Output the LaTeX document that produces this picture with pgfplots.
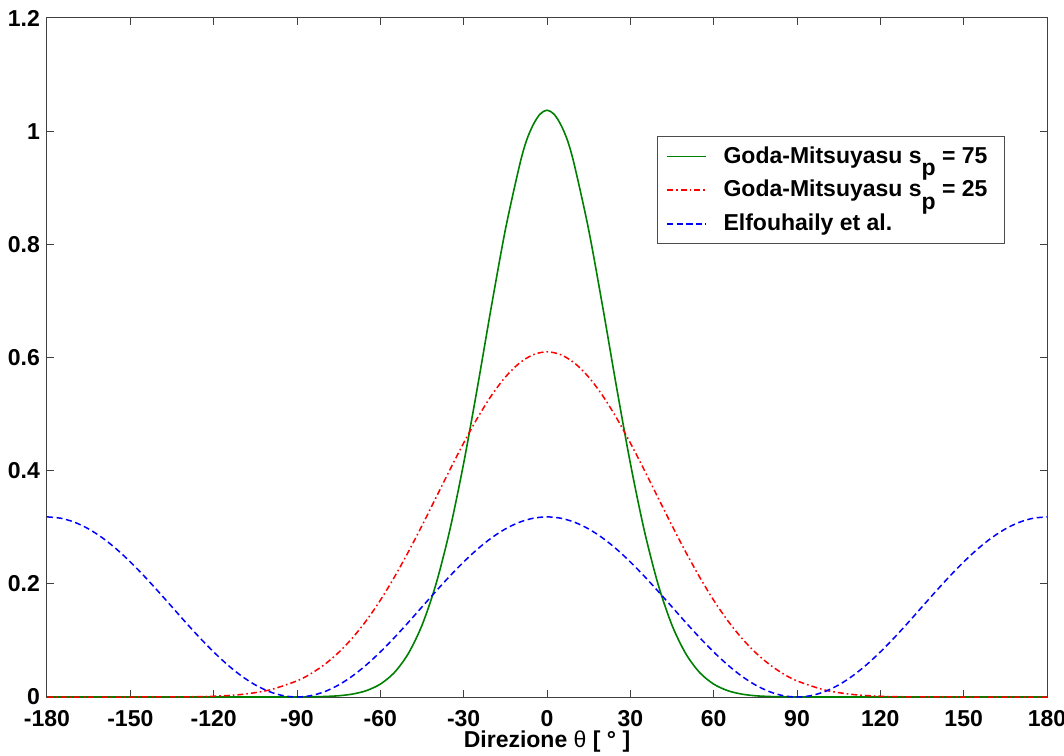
\documentclass[border=0pt]{standalone}
\usepackage{fontspec}
\setmainfont{Liberation Sans}
\usepackage{pgfplots}
\pgfplotsset{compat=1.18}
\definecolor{mgreen}{rgb}{0,0.5,0}
\begin{document}
\begin{tikzpicture}
\begin{axis}[
  name=ax,
  width=500pt, height=339.5pt, scale only axis,
  xmin=-180, xmax=180, ymin=0, ymax=1.2,
  xtick={-180,-150,-120,-90,-60,-30,0,30,60,90,120,150,180},
  ytick={0,0.2,0.4,0.6,0.8,1,1.2},
  tick align=inside, major tick length=3.5pt,
  axis line style={line width=0.5pt, black!75},
  tick style={line width=0.5pt, black!75},
  font=\fontsize{11.5}{13.8}\selectfont\bfseries,
  /pgf/number format/assume math mode=true,
  ticklabel style={font=\fontsize{11.5}{13.8}\selectfont\bfseries},
  xticklabel style={yshift=-3pt},
  yticklabel style={xshift=0pt},
  xlabel={Direzione {\mdseries θ} [ ° ]},
  xlabel style={yshift=4.5pt},
  legend cell align=left,
  legend style={at={(0.958,0.826)}, anchor=north east, draw=black!70, line width=0.5pt,
    font=\fontsize{11.5}{13.8}\selectfont\bfseries, row sep=3pt,
    inner xsep=4.5pt, inner ysep=3pt, nodes={inner xsep=4pt}},
  legend image code/.code={\draw[mark repeat=2,mark phase=2] plot coordinates {(0cm,0cm) (0.34cm,0cm) (0.68cm,0cm)};
    \path (0.68cm+4.5pt,0cm);},
]
\addplot[mgreen, line width=0.8pt, smooth] coordinates {
(-180,0) (-100,0) (-90,0.0001) (-85,0.0003) (-80,0.0009) (-75,0.0022) (-70,0.0052) (-65,0.0113)
(-60,0.0228) (-55,0.0430) (-50,0.0762) (-45,0.1268) (-40,0.1990) (-35,0.2948) (-30,0.4132)
(-25,0.5486) (-20,0.6908) (-15,0.8256) (-10,0.9372) (-7.5,0.9818) (-5,1.0111) (-2.5,1.0302) (0,1.037)
(2.5,1.0302) (5,1.0111) (7.5,0.9818) (10,0.9372) (15,0.8256) (20,0.6908) (25,0.5486) (30,0.4132) (35,0.2948)
(40,0.1990) (45,0.1268) (50,0.0762) (55,0.0430) (60,0.0228) (65,0.0113) (70,0.0052)
(75,0.0022) (80,0.0009) (85,0.0003) (90,0.0001) (100,0) (180,0)};
\addlegendentry{Goda-Mitsuyasu s\raisebox{-0.55em}{p} = 75}
\addplot[red, line width=0.75pt, smooth, dash pattern=on 3pt off 1.5pt on 0.8pt off 1.5pt] coordinates {
(-180,0) (-150,0) (-140,0.0001) (-130,0.0003) (-120,0.0013) (-110,0.0045) (-100,0.0123)
(-90,0.0285) (-85,0.0412) (-80,0.0578) (-75,0.0788) (-70,0.1046) (-65,0.1353) (-60,0.1710)
(-55,0.2114) (-50,0.2557) (-45,0.3029) (-40,0.3520) (-35,0.4012) (-30,0.4490) (-25,0.4934)
(-20,0.5328) (-15,0.5654) (-10,0.5898) (-5,0.6049) (0,0.61)
(5,0.6049) (10,0.5898) (15,0.5654) (20,0.5328) (25,0.4934) (30,0.4490) (35,0.4012)
(40,0.3520) (45,0.3029) (50,0.2557) (55,0.2114) (60,0.1710) (65,0.1353) (70,0.1046)
(75,0.0788) (80,0.0578) (85,0.0412) (90,0.0285) (100,0.0123) (110,0.0045) (120,0.0013)
(130,0.0003) (140,0.0001) (150,0) (180,0)};
\addlegendentry{Goda-Mitsuyasu s\raisebox{-0.55em}{p} = 25}
\addplot[blue, line width=0.75pt, smooth, dash pattern=on 3pt off 1.8pt] coordinates {
(-180,0.3183) (-175,0.3159) (-170,0.3087) (-165,0.2970) (-160,0.2811) (-155,0.2615) (-150,0.2387)
(-145,0.2136) (-140,0.1868) (-135,0.1592) (-130,0.1315) (-125,0.1047) (-120,0.0796) (-115,0.0569)
(-110,0.0372) (-105,0.0213) (-100,0.0096) (-95,0.0024) (-90,0)
(-85,0.0024) (-80,0.0096) (-75,0.0213) (-70,0.0372) (-65,0.0569) (-60,0.0796) (-55,0.1047)
(-50,0.1315) (-45,0.1592) (-40,0.1868) (-35,0.2136) (-30,0.2387) (-25,0.2615) (-20,0.2811)
(-15,0.2970) (-10,0.3087) (-5,0.3159) (0,0.3183)
(5,0.3159) (10,0.3087) (15,0.2970) (20,0.2811) (25,0.2615) (30,0.2387) (35,0.2136)
(40,0.1868) (45,0.1592) (50,0.1315) (55,0.1047) (60,0.0796) (65,0.0569) (70,0.0372)
(75,0.0213) (80,0.0096) (85,0.0024) (90,0)
(95,0.0024) (100,0.0096) (105,0.0213) (110,0.0372) (115,0.0569) (120,0.0796) (125,0.1047)
(130,0.1315) (135,0.1592) (140,0.1868) (145,0.2136) (150,0.2387) (155,0.2615) (160,0.2811)
(165,0.2970) (170,0.3087) (175,0.3159) (180,0.3183)};
\addlegendentry{Elfouhaily et al.}
\end{axis}
\pgfresetboundingbox
\path ([shift={(-23.5pt,-29pt)}]ax.south west) rectangle ([shift={(8.5pt,9pt)}]ax.north east);
\end{tikzpicture}
\end{document}
